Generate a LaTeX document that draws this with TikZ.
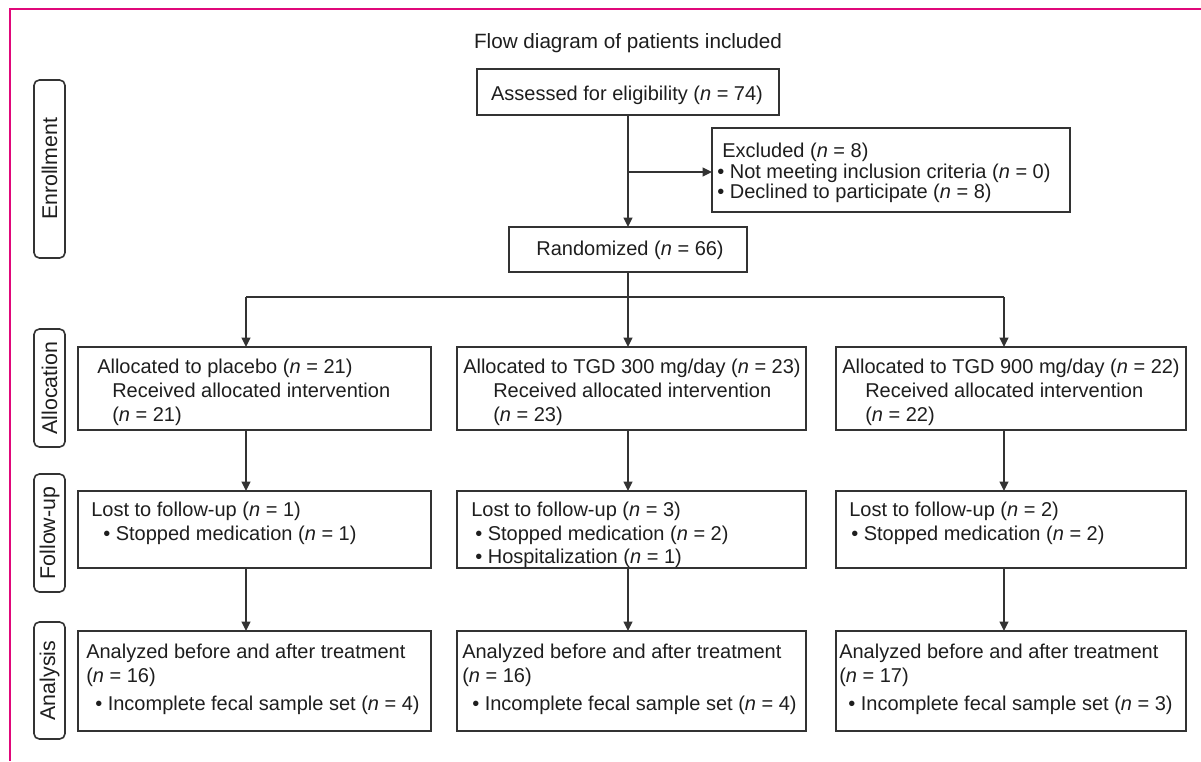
\documentclass[tikz,border=0pt]{standalone}
\usepackage{fontspec}
\setmainfont{Liberation Sans}
\usetikzlibrary{arrows.meta}
\definecolor{linec}{HTML}{333333}
\definecolor{textc}{HTML}{1E1E1E}
\definecolor{framec}{HTML}{E0087A}
\newcommand\mkbox[6][box]{\node[#1, minimum width={(#5-#3)*0.75pt}, minimum height={(#6-#4)*0.75pt}] (#2) at ({(#3+#5)/2},{(#4+#6)/2}) {};}
\begin{document}
\begin{tikzpicture}[x=0.75pt,y=-0.75pt,
  box/.style={draw=linec, line width=1.2pt, inner sep=0pt, outer sep=0pt},
  lbl/.style={draw=linec, line width=1.2pt, rounded corners=4pt, inner sep=0pt, outer sep=0pt},
  txt/.style={inner sep=0pt, anchor=base west, font=\fontsize{15}{18}\selectfont, text=textc},
  ctxt/.style={txt, anchor=base},
  ltxt/.style={inner sep=0pt, rotate=90, font=\fontsize{16}{19}\selectfont, text=textc},
  arr/.style={draw=linec, line width=1.2pt, -{Triangle[length=7pt,width=6.5pt]}},
  ln/.style={draw=linec, line width=1.2pt}]
\useasboundingbox (0,0) rectangle (1201,761);
\fill[white] (0,0) rectangle (1201,761);
\draw[framec, line width=1.6pt] (10,761) -- (10,9) -- (1201,9);

% title
\node[ctxt, font=\fontsize{15.5}{18}\selectfont] (title) at (628,48) {Flow diagram of patients included};

% stage labels
\mkbox[lbl]{lenr}{34}{80}{65}{258}
\mkbox[lbl]{lall}{34}{329}{65}{447}
\mkbox[lbl]{lfol}{34}{474}{65}{592}
\mkbox[lbl]{lana}{34}{622}{65}{739}
\node[ltxt] (tenr) at (lenr) {Enrollment};
\node[ltxt] (tall) at (lall) {Allocation};
\node[ltxt] (tfol) at (lfol) {Follow-up};
\node[ltxt] (tana) at (lana) {Analysis};

% boxes
\mkbox{assess}{477}{69}{779}{115}
\mkbox{excl}{712}{128}{1070}{212}
\mkbox{rand}{509}{227}{747}{272}
\mkbox{a1}{78}{347}{431}{430}
\mkbox{a2}{457}{347}{806}{430}
\mkbox{a3}{836}{347}{1186}{430}
\mkbox{f1}{78}{491}{431}{568}
\mkbox{f2}{457}{491}{806}{568}
\mkbox{f3}{836}{491}{1186}{568}
\mkbox{n1}{78}{631}{431}{731}
\mkbox{n2}{457}{631}{806}{731}
\mkbox{n3}{836}{631}{1186}{731}

% texts
\node[ctxt] (tassess) at (627,100) {Assessed for eligibility (\textit{n} = 74)};
\node[ctxt] (trand) at (630,255) {Randomized (\textit{n} = 66)};
\node[txt] (te1) at (722,157) {Excluded (\textit{n} = 8)};
\node[txt] (te2) at (717,178) {• Not meeting inclusion criteria (\textit{n} = 0)};
\node[txt] (te3) at (717,198) {• Declined to participate (\textit{n} = 8)};

\node[txt] (ta11) at (97,373) {Allocated to placebo (\textit{n} = 21)};
\node[txt] (ta12) at (112,397) {Received allocated intervention};
\node[txt] (ta13) at (112,421) {(\textit{n} = 21)};
\node[txt] (ta21) at (463,373) {Allocated to TGD 300 mg/day (\textit{n} = 23)};
\node[txt] (ta22) at (493,397) {Received allocated intervention};
\node[txt] (ta23) at (493,421) {(\textit{n} = 23)};
\node[txt] (ta31) at (842,373) {Allocated to TGD 900 mg/day (\textit{n} = 22)};
\node[txt] (ta32) at (865,397) {Received allocated intervention};
\node[txt] (ta33) at (865,421) {(\textit{n} = 22)};

\node[txt] (tf11) at (91,516) {Lost to follow-up (\textit{n} = 1)};
\node[txt] (tf12) at (103,540) {• Stopped medication (\textit{n} = 1)};
\node[txt] (tf21) at (471,516) {Lost to follow-up (\textit{n} = 3)};
\node[txt] (tf22) at (475,540) {• Stopped medication (\textit{n} = 2)};
\node[txt] (tf23) at (475,563) {• Hospitalization (\textit{n} = 1)};
\node[txt] (tf31) at (849,516) {Lost to follow-up (\textit{n} = 2)};
\node[txt] (tf32) at (851,540) {• Stopped medication (\textit{n} = 2)};

\node[txt] (tn11) at (86,658) {Analyzed before and after treatment};
\node[txt] (tn12) at (86,682) {(\textit{n} = 16)};
\node[txt] (tn13) at (95,710) {• Incomplete fecal sample set (\textit{n} = 4)};
\node[txt] (tn21) at (462,658) {Analyzed before and after treatment};
\node[txt] (tn22) at (462,682) {(\textit{n} = 16)};
\node[txt] (tn23) at (472,710) {• Incomplete fecal sample set (\textit{n} = 4)};
\node[txt] (tn31) at (839,658) {Analyzed before and after treatment};
\node[txt] (tn32) at (839,682) {(\textit{n} = 17)};
\node[txt] (tn33) at (848,710) {• Incomplete fecal sample set (\textit{n} = 3)};

% connectors
\coordinate (br) at (628,172);
\coordinate (sp) at (628,297);
\coordinate (c1) at (246,297);
\coordinate (c3) at (1004,297);
\draw[arr] (assess.south) -- (assess.south |- rand.north);
\draw[arr] (br) -- (br -| excl.west);
\draw[ln] (rand.south) -- (sp);
\draw[ln] (c1) -- (c3);
\draw[arr] (c1) -- (c1 |- a1.north);
\draw[arr] (sp) -- (sp |- a2.north);
\draw[arr] (c3) -- (c3 |- a3.north);
\draw[arr] (a1.south -| c1) -- (f1.north -| c1);
\draw[arr] (a2.south -| sp) -- (f2.north -| sp);
\draw[arr] (a3.south -| c3) -- (f3.north -| c3);
\draw[arr] (f1.south -| c1) -- (n1.north -| c1);
\draw[arr] (f2.south -| sp) -- (n2.north -| sp);
\draw[arr] (f3.south -| c3) -- (n3.north -| c3);
\end{tikzpicture}
\end{document}
